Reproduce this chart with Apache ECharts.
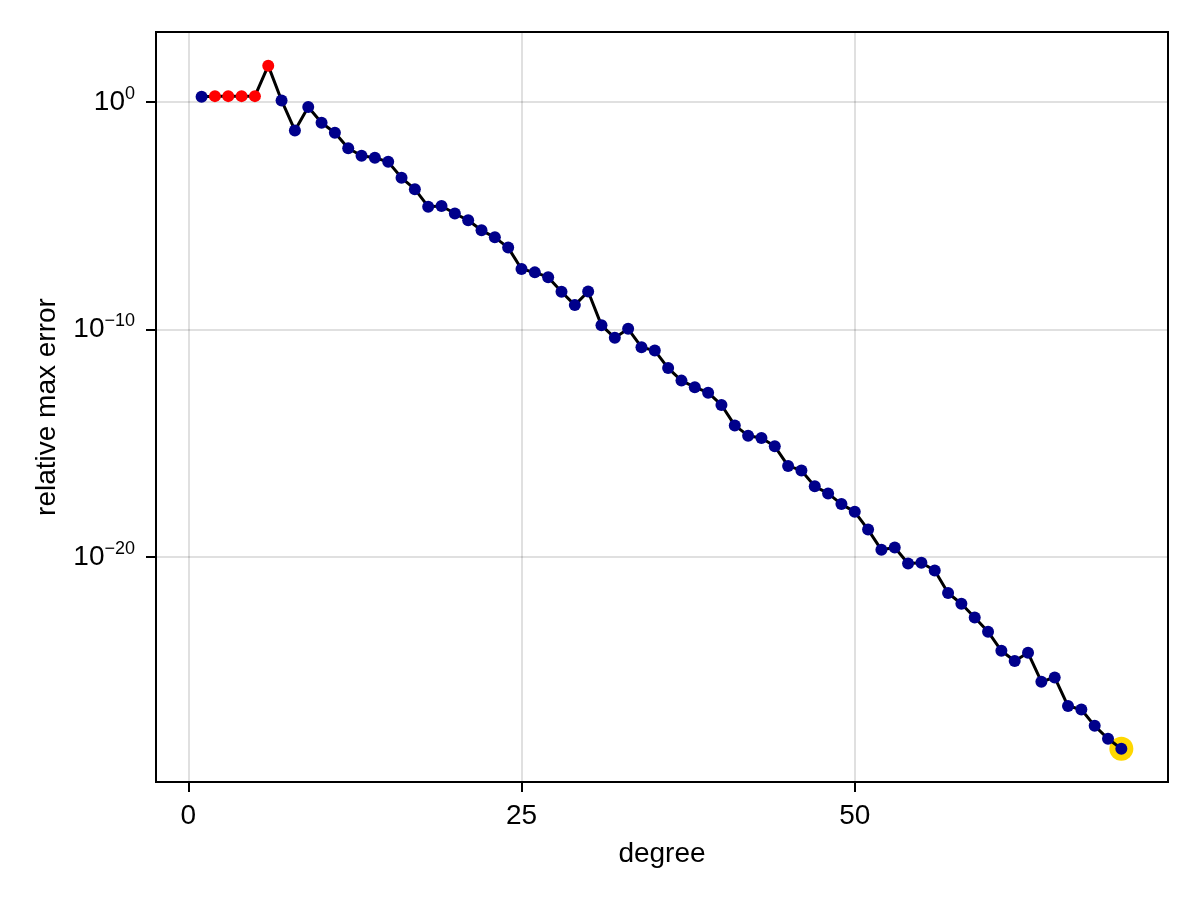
<!DOCTYPE html>
<html>
<head>
<meta charset="utf-8">
<title>relative max error vs degree</title>
<script src="https://cdn.jsdelivr.net/npm/echarts@6/dist/echarts.min.js"></script>
<style>
    html, body { margin: 0; padding: 0; background: #fff; }
    #chart { width: 1200px; height: 900px; }
</style>
</head>
<body>
<div id="chart"></div>
<script>
// degree of the approximation
var degrees = [1, 2, 3, 4, 5, 6, 7, 8, 9, 10,
    11, 12, 13, 14, 15, 16, 17, 18, 19, 20,
    21, 22, 23, 24, 25, 26, 27, 28, 29, 30,
    31, 32, 33, 34, 35, 36, 37, 38, 39, 40,
    41, 42, 43, 44, 45, 46, 47, 48, 49, 50,
    51, 52, 53, 54, 55, 56, 57, 58, 59, 60,
    61, 62, 63, 64, 65, 66, 67, 68, 69, 70];
// log10 of the relative max error
var log10Error = [0.23, 0.26, 0.26, 0.26, 0.26, 1.60, 0.07, -1.25, -0.22, -0.91,
    -1.35, -2.03, -2.36, -2.45, -2.63, -3.33, -3.83, -4.60, -4.57, -4.90,
    -5.20, -5.64, -5.95, -6.40, -7.34, -7.49, -7.70, -8.34, -8.93, -8.33,
    -9.82, -10.37, -9.97, -10.78, -10.93, -11.70, -12.25, -12.54, -12.78, -13.32,
    -14.22, -14.67, -14.77, -15.14, -16.00, -16.20, -16.90, -17.21, -17.68, -18.02,
    -18.80, -19.69, -19.59, -20.29, -20.26, -20.60, -21.59, -22.06, -22.67, -23.29,
    -24.13, -24.58, -24.22, -25.49, -25.30, -26.56, -26.71, -27.43, -28.00, -28.44];
// degrees drawn in red, and the one that gets the gold ring
var redDegrees = [2, 3, 4, 5, 6];
var bestDegree = 70;
// tick labels
var xTicks = [0, 25, 50];
var yTicks = [0, -10, -20];

var font = 'Liberation Sans, Arial, sans-serif';

var allPts = [], bluePts = [], redPts = [], bestPts = [];
for (var i = 0; i < degrees.length; i++) {
    var p = [degrees[i], log10Error[i]];
    allPts.push(p);
    if (redDegrees.indexOf(degrees[i]) >= 0) {
        redPts.push(p);
    } else {
        bluePts.push(p);
    }
    if (degrees[i] === bestDegree) {
        bestPts.push(p);
    }
}

function expLabel(v) {
    var s = String(Math.round(v)).replace('-', '\u2212');
    return '{b|10}{s|' + s + '}';
}

var chart = echarts.init(document.getElementById('chart'));
chart.setOption({
    animation: false,
    backgroundColor: '#fff',
    textStyle: { fontFamily: font },
    grid: {
        left: 156, right: 32, top: 32, bottom: 118,
        show: true,
        borderColor: '#000',
        borderWidth: 2,
        containLabel: false
    },
    xAxis: {
        type: 'value',
        position: 'bottom',
        min: -2.42,
        max: 73.5,
        name: 'degree',
        nameLocation: 'middle',
        nameGap: 58,
        nameTextStyle: { fontSize: 28, color: '#000', fontFamily: font },
        axisLine: { show: true, onZero: false, lineStyle: { color: '#000', width: 2 } },
        axisTick: {
            show: true, inside: false, length: 10,
            customValues: xTicks,
            lineStyle: { color: '#000', width: 2 }
        },
        axisLabel: {
            customValues: xTicks,
            fontSize: 28, color: '#000', margin: 20, fontFamily: font
        },
        splitLine: { show: true, lineStyle: { color: 'rgba(0,0,0,0.12)', width: 2 } }
    },
    yAxis: {
        type: 'value',
        min: -29.9,
        max: 3.08,
        name: 'relative max error',
        nameLocation: 'middle',
        nameGap: 95,
        nameTextStyle: { fontSize: 28, color: '#000', fontFamily: font },
        axisLine: { show: true, onZero: false, lineStyle: { color: '#000', width: 2 } },
        axisTick: {
            show: true, inside: false, length: 10,
            customValues: yTicks,
            lineStyle: { color: '#000', width: 2 }
        },
        axisLabel: {
            customValues: yTicks,
            margin: 21,
            formatter: expLabel,
            rich: {
                b: { fontSize: 28, lineHeight: 34, color: '#000', fontFamily: font },
                s: { fontSize: 18, lineHeight: 20, verticalAlign: 'top', color: '#000', fontFamily: font }
            }
        },
        splitLine: { show: true, lineStyle: { color: 'rgba(0,0,0,0.12)', width: 2 } }
    },
    series: [
        {
            name: 'ring',
            type: 'scatter',
            data: bestPts,
            symbol: 'circle',
            symbolSize: 24,
            itemStyle: { color: '#FFD700', opacity: 1 },
            z: 1
        },
        {
            name: 'error',
            type: 'line',
            data: allPts,
            showSymbol: false,
            symbol: 'none',
            lineStyle: { color: '#000', width: 3 },
            z: 2
        },
        {
            name: 'ok',
            type: 'scatter',
            data: bluePts,
            symbol: 'circle',
            symbolSize: 12,
            itemStyle: { color: '#00008B', opacity: 1 },
            z: 3
        },
        {
            name: 'bad',
            type: 'scatter',
            data: redPts,
            symbol: 'circle',
            symbolSize: 12,
            itemStyle: { color: '#FF0000', opacity: 1 },
            z: 3
        }
    ]
});
</script>
</body>
</html>
